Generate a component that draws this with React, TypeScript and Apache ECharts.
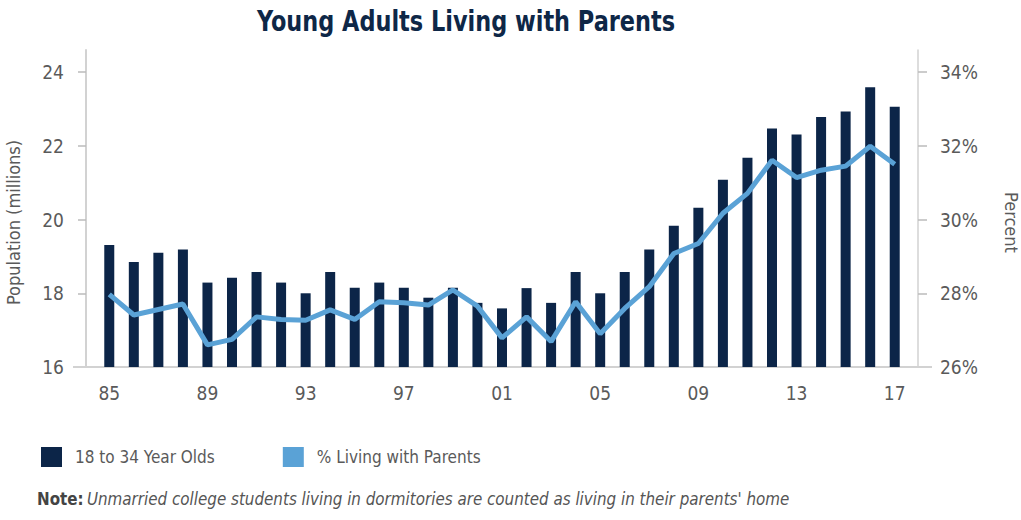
import React, { useEffect, useRef } from "react";
import * as echarts from "echarts";

const years = ["85","86","87","88","89","90","91","92","93","94","95","96","97","98","99","00","01","02","03","04","05","06","07","08","09","10","11","12","13","14","15","16","17"];
const population = [19.31, 18.85, 19.1, 19.19, 18.29, 18.42, 18.58, 18.29, 18.0, 18.58, 18.15, 18.29, 18.15, 17.88, 18.15, 17.74, 17.59, 18.14, 17.74, 18.58, 18.0, 18.58, 19.19, 19.83, 20.32, 21.08, 21.68, 22.47, 22.31, 22.78, 22.93, 23.59, 23.06];
const pctLiving = [27.97, 27.41, 27.56, 27.71, 26.6, 26.75, 27.36, 27.29, 27.27, 27.55, 27.29, 27.77, 27.74, 27.68, 28.09, 27.65, 26.79, 27.36, 26.69, 27.77, 26.9, 27.59, 28.18, 29.08, 29.35, 30.17, 30.71, 31.61, 31.14, 31.34, 31.45, 31.99, 31.5];
const leftTicks = [16, 18, 20, 22, 24];
const rightTicks = [26, 28, 30, 32, 34];
const seriesNames = ["18 to 34 Year Olds", "% Living with Parents"];
const titleText = "Young Adults Living with Parents";
const noteLabel = "Note:";
const noteText = "Unmarried college students living in dormitories are counted as living in their parents' home";

const FONT = "'Liberation Sans Narrow', 'DejaVu Sans Condensed', 'Liberation Sans', sans-serif";
const NAVY = "#0c2548";
const BLUE = "#5aa2d6";
const GRAY = "#5a5a5a";
const AXIS = "#d2d2d2";

export default function App() {
  const ref = useRef<HTMLDivElement>(null);
  useEffect(() => {
    document.body.style.margin = "0";
    if (!ref.current) return;
    const chart = echarts.init(ref.current, null, { renderer: "svg" });
    chart.setOption({
      animation: false,
      backgroundColor: "#ffffff",
      textStyle: { fontFamily: FONT },
      grid: { left: 97, right: 114, top: 50, bottom: 153, outerBoundsMode: "none", containLabel: false },
      legend: {
        left: 36,
        top: 442,
        icon: "rect",
        itemWidth: 21,
        itemHeight: 20,
        itemGap: 68,
        textStyle: { fontFamily: FONT, fontSize: 17, color: GRAY, padding: [0, 0, 0, 8] },
        data: seriesNames,
      },
      xAxis: {
        type: "category",
        data: years,
        boundaryGap: true,
        axisLine: { show: false },
        axisTick: { show: false },
        axisLabel: { interval: 3, fontSize: 19, color: GRAY, margin: 16, fontFamily: FONT },
      },
      yAxis: [
        {
          type: "value",
          min: 16,
          max: 24.6,
          offset: 11,
          position: "left",
          name: "Population (millions)",
          nameLocation: "middle",
          nameGap: 64,
          nameTextStyle: { fontSize: 18, color: GRAY, fontFamily: FONT, padding: [0, 28, 0, 0] },
          axisLine: { show: true, lineStyle: { color: AXIS, width: 2 } },
          axisTick: { show: true, customValues: leftTicks, length: 8, lineStyle: { color: "#bbbbbb", width: 1.5 } },
          axisLabel: { customValues: leftTicks, fontSize: 19, color: GRAY, margin: 22, fontFamily: FONT },
          splitLine: { show: false },
        },
        {
          type: "value",
          min: 26,
          max: 34.6,
          offset: 11,
          position: "right",
          name: "Percent",
          nameLocation: "middle",
          nameRotate: -90,
          nameGap: 84,
          nameTextStyle: { fontSize: 18, color: GRAY, fontFamily: FONT, padding: [0, 0, 0, 28] },
          axisLine: { show: true, lineStyle: { color: AXIS, width: 1.5 } },
          axisTick: { show: true, customValues: rightTicks, length: 9, lineStyle: { color: "#bbbbbb", width: 1.5 } },
          axisLabel: { customValues: rightTicks, fontSize: 19, color: GRAY, margin: 22, fontFamily: FONT, formatter: "{value}%" },
          splitLine: { show: false },
        },
      ],
      series: [
        {
          name: seriesNames[0],
          type: "bar",
          yAxisIndex: 0,
          data: population,
          barWidth: 10,
          itemStyle: { color: NAVY },
        },
        {
          name: seriesNames[1],
          type: "line",
          yAxisIndex: 1,
          data: pctLiving,
          symbol: "none",
          z: 5,
          lineStyle: { color: BLUE, width: 5 },
          itemStyle: { color: BLUE },
        },
      ],
      graphic: [
        {
          type: "line",
          shape: { x1: 73, y1: 367, x2: 932, y2: 367 },
          style: { stroke: AXIS, lineWidth: 2 },
          z: 1,
        },
        {
          type: "text",
          x: 466,
          y: 21,
          scaleX: 0.89,
          style: {
            text: titleText,
            fontFamily: FONT,
            fontSize: 28,
            fontWeight: "bold",
            fill: "#0e2747",
            align: "center",
            verticalAlign: "middle",
          },
        },
        {
          type: "text",
          x: 37,
          y: 499,
          scaleX: 0.99,
          style: {
            text: "{b|" + noteLabel + "} {i|" + noteText + "}",
            verticalAlign: "middle",
            rich: {
              b: { fontFamily: FONT, fontSize: 17, fontWeight: "bold", fill: "#444444" },
              i: { fontFamily: FONT, fontSize: 17, fontStyle: "italic", fill: "#555555" },
            },
          },
        },
      ],
    });
    return () => chart.dispose();
  }, []);
  return <div ref={ref} style={{ width: 1021, height: 520 }} />;
}
